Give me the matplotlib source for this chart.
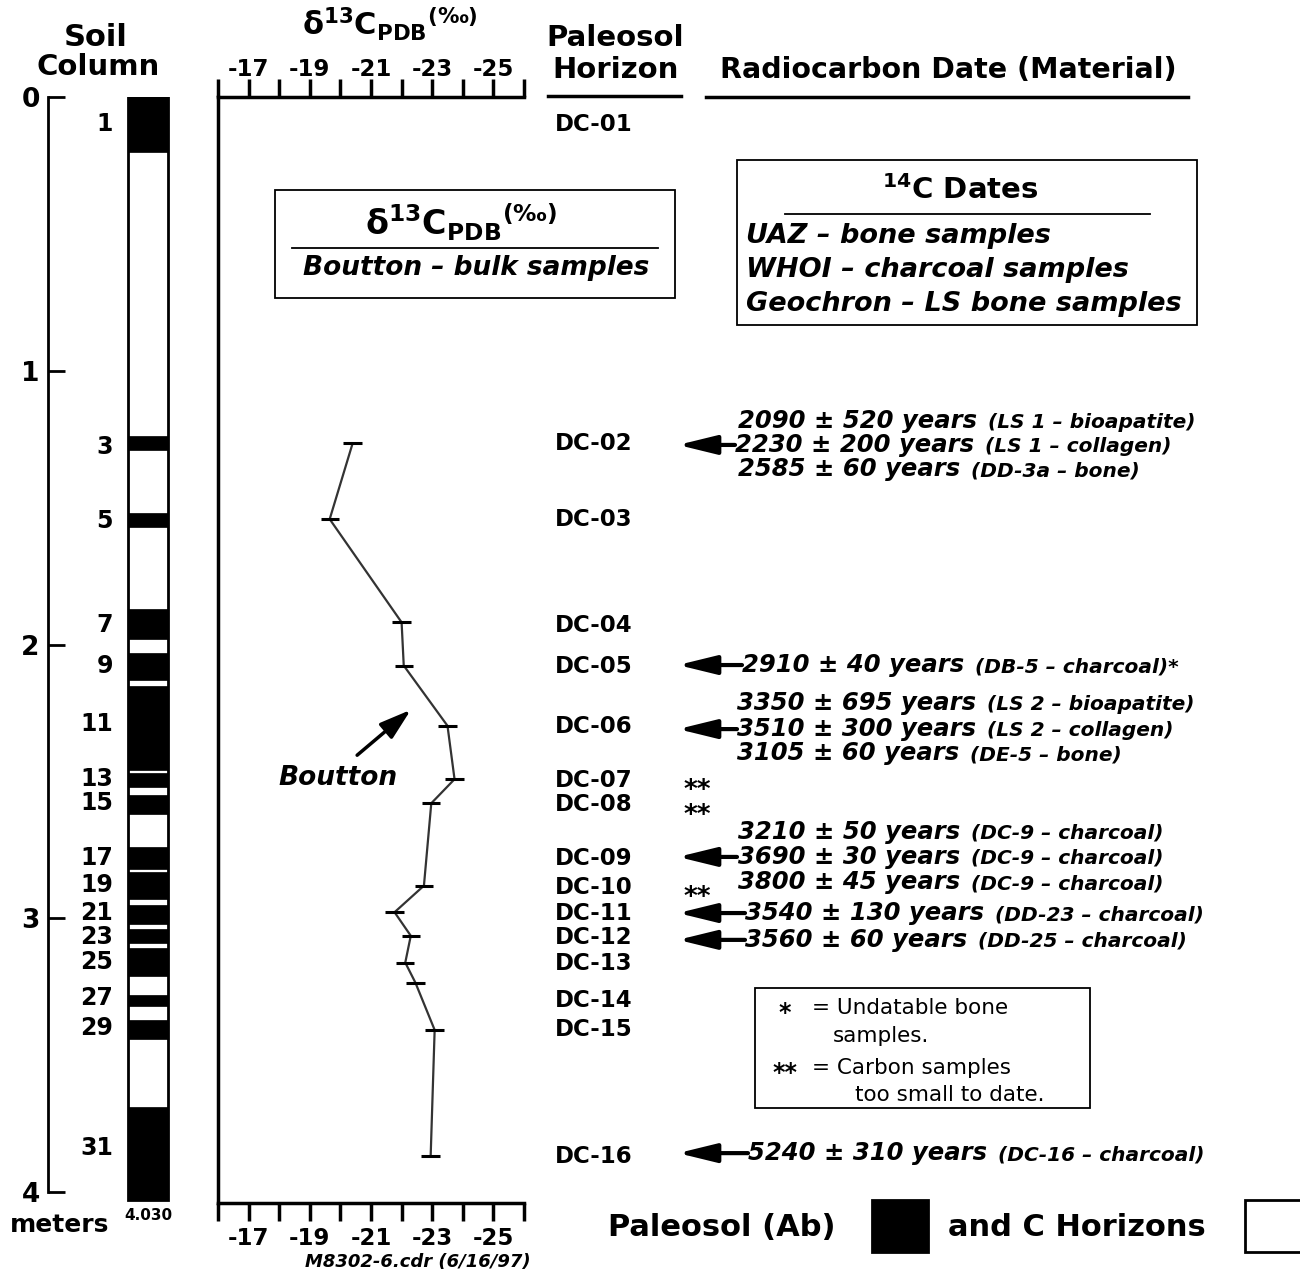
import matplotlib
matplotlib.use("Agg")

import matplotlib.pyplot as plt
from matplotlib.patches import Rectangle
from matplotlib.lines import Line2D
from matplotlib.offsetbox import TextArea, HPacker, AnnotationBbox

plt.rcParams["font.family"] = ["DejaVu Sans"]
plt.rcParams["mathtext.fontset"] = "custom"
plt.rcParams["mathtext.rm"] = "DejaVu Sans:bold"
plt.rcParams["mathtext.it"] = "DejaVu Sans:bold:italic"
plt.rcParams["mathtext.bf"] = "DejaVu Sans:bold"

# ---- soil column: black paleosol (Ab) bands, top/bottom depth in metres
band_top = [0.00, 1.24, 1.52, 1.87, 2.03, 2.15, 2.47, 2.55, 2.74, 2.83, 2.95, 3.04, 3.11, 3.28, 3.37, 3.69]
band_bot = [0.20, 1.29, 1.57, 1.98, 2.13, 2.46, 2.52, 2.62, 2.82, 2.93, 3.02, 3.09, 3.21, 3.32, 3.44, 4.03]
column_depth = 4.03

horizon_num = ["1", "3", "5", "7", "9", "11", "13", "15", "17", "19", "21", "23", "25", "27", "29", "31"]
horizon_num_depth = [0.10, 1.28, 1.55, 1.93, 2.08, 2.29, 2.49, 2.58, 2.78, 2.88, 2.98, 3.07, 3.16, 3.29, 3.40, 3.84]

# ---- delta 13C (Boutton bulk samples)
d13c_depth = [1.265, 1.542, 1.919, 2.077, 2.297, 2.492, 2.580, 2.881, 2.978, 3.064, 3.162, 3.235, 3.408, 3.868]
d13c_value = [-20.4, -19.65, -22.0, -22.07, -23.5, -23.73, -22.97, -22.73, -21.77, -22.3, -22.12, -22.45, -23.08, -22.95]
d13c_err = 0.3
d13c_ticks = list(range(-16, -27, -1))

# ---- paleosol horizons
dc_label = ["DC-01", "DC-02", "DC-03", "DC-04", "DC-05", "DC-06", "DC-07", "DC-08",
            "DC-09", "DC-10", "DC-11", "DC-12", "DC-13", "DC-14", "DC-15", "DC-16"]
dc_depth = [0.102, 1.264, 1.545, 1.932, 2.082, 2.301, 2.495, 2.583,
            2.783, 2.886, 2.981, 3.069, 3.164, 3.299, 3.405, 3.869]

# ---- radiocarbon dates
date_main = ["2090 ± 520 years", "2230 ± 200 years", "2585 ± 60 years",
             "2910 ± 40 years",
             "3350 ± 695 years", "3510 ± 300 years", "3105 ± 60 years",
             "3210 ± 50 years", "3690 ± 30 years", "3800 ± 45 years",
             "3540 ± 130 years", "3560 ± 60 years", "5240 ± 310 years"]
date_material = ["(LS 1 – bioapatite)", "(LS 1 – collagen)", "(DD-3a – bone)",
                 "(DB-5 – charcoal)*",
                 "(LS 2 – bioapatite)", "(LS 2 – collagen)", "(DE-5 – bone)",
                 "(DC-9 – charcoal)", "(DC-9 – charcoal)", "(DC-9 – charcoal)",
                 "(DD-23 – charcoal)", "(DD-25 – charcoal)", "(DC-16 – charcoal)"]
date_depth = [1.182, 1.271, 1.360, 2.075, 2.215, 2.309, 2.398,
              2.684, 2.776, 2.868, 2.981, 3.079, 3.858]
arrow_depth = [1.271, 2.075, 2.309, 2.776, 2.981, 3.079, 3.858]
too_small_depth = [2.506, 2.597, 2.897]   # "**" horizons

# ---- layout (pixels)
W, H = 1300, 1277
TOP, BOT = 97, 1203
DMAX = (BOT - TOP) / 273.75
date_x = [738, 735, 738, 742, 737, 737, 737, 738, 738, 738, 745, 745, 748]
arrow_tail = [735, 742, 737, 737, 745, 745, 748]
ARROW_TIP = 678

fig = plt.figure(figsize=(W / 100, H / 100), dpi=100)


def fx(x):
    return x / W


def fy(y):
    return 1 - y / H


def rect(x0, x1):
    return [fx(x0), fy(BOT), (x1 - x0) / W, (BOT - TOP) / H]


def ftext(x, y, s, **kw):
    kw.setdefault("fontweight", "bold")
    fig.text(fx(x), fy(y), s, **kw)


def fbox(x0, y0, x1, y1, lw=1.3, fc="white"):
    fig.patches.append(Rectangle((fx(x0), fy(y1)), (x1 - x0) / W, (y1 - y0) / H,
                                 transform=fig.transFigure, fill=True, facecolor=fc,
                                 edgecolor="black", linewidth=lw))


def fline(x0, x1, y, lw=1.3):
    fig.lines.append(Line2D([fx(x0), fx(x1)], [fy(y), fy(y)], transform=fig.transFigure,
                            color="black", linewidth=lw))


# main overlay: x in pixels, y in depth
ax = fig.add_axes(rect(0, W))
ax.set_xlim(0, W)
ax.set_ylim(DMAX, 0)
ax.axis("off")

# soil column
ax.bar(148, column_depth, width=40, bottom=0, color="white", edgecolor="black", linewidth=2)
ax.bar([148] * len(band_top), [b - t for t, b in zip(band_top, band_bot)], width=40,
       bottom=band_top, color="black", edgecolor="black", linewidth=0.5)
for s, d in zip(horizon_num, horizon_num_depth):
    ax.text(113, d, s, ha="right", va="center", fontsize=17, fontweight="bold")

# depth scale
axd = fig.add_axes(rect(48, 70))
axd.set_ylim(DMAX, 0)
axd.set_facecolor("none")
for side in ("top", "right", "bottom"):
    axd.spines[side].set_visible(False)
axd.spines["left"].set_bounds(0, 4)
axd.spines["left"].set_linewidth(2)
axd.set_xticks([])
axd.set_yticks([0, 1, 2, 3, 4])
axd.set_yticklabels(["0", "1", "2", "3", "4"], fontsize=19, fontweight="bold")
axd.tick_params(axis="y", direction="in", length=12, width=2, pad=6)

# delta 13C panel
ax13 = fig.add_axes(rect(218, 524))
ax13.set_facecolor("none")
ax13.set_xlim(-16, -26)
ax13.set_ylim(DMAX, 0)
ax13.spines["right"].set_visible(False)
for side in ("top", "bottom", "left"):
    ax13.spines[side].set_linewidth(2.5)
tick_text = [str(t) if t % 2 else "" for t in d13c_ticks]
ax13.set_xticks(d13c_ticks)
ax13.set_xticklabels(tick_text, fontsize=16.5, fontweight="bold")
ax13.tick_params(axis="x", top=True, labeltop=False, bottom=True, labelbottom=True,
                 direction="out", length=13, width=2.5, pad=4)
# top labels sit close to the tick marks
for t, s in zip(d13c_ticks, tick_text):
    ax13.text(t, 1.0245, s, transform=ax13.get_xaxis_transform(), ha="center",
              va="center", fontsize=16.5, fontweight="bold")
ax13.set_yticks([])
ax13.plot(d13c_value, d13c_depth, color="#333333", linewidth=1.6)
ax13.errorbar(d13c_value, d13c_depth, xerr=d13c_err, fmt="none", ecolor="black",
              elinewidth=2.2, capsize=0)

ax.annotate("", xy=(413, 2.232), xytext=(355, 2.411),
            arrowprops=dict(arrowstyle="-|>,head_length=0.8,head_width=0.25",
                            color="black", lw=2.5, mutation_scale=24))
ax.text(338, 2.488, "Boutton", ha="center", va="center", fontsize=19,
        fontweight="bold", fontstyle="italic")

# headers
ftext(96, 37, "Soil", ha="center", va="center", fontsize=22)
ftext(98, 67, "Column", ha="center", va="center", fontsize=21)
d13c_title = r"$\mathrm{\delta^{13}C_{PDB}{}^{(‰)}}$"
ftext(390, 24, d13c_title, ha="center", va="center", fontsize=22)
ftext(615, 38, "Paleosol", ha="center", va="center", fontsize=21)
ftext(616, 70, "Horizon", ha="center", va="center", fontsize=21)
ftext(948, 70, "Radiocarbon Date (Material)", ha="center", va="center", fontsize=20.5)
fline(548, 681, 96, lw=2.5)
fline(706, 1188, 97, lw=2.5)

# boxed notes
fbox(275, 190, 675, 298)
ftext(461, 222, d13c_title, ha="center", va="center", fontsize=24)
fline(292, 658, 248)
ftext(476, 268, "Boutton – bulk samples", ha="center", va="center", fontsize=19,
      fontstyle="italic")

fbox(737, 160, 1197, 325)
ftext(960, 190, r"$\mathrm{{}^{14}C\ Dates}$", ha="center", va="center", fontsize=21)
fline(785, 1150, 214)
for i, s in enumerate(["UAZ – bone samples", "WHOI – charcoal samples",
                       "Geochron – LS bone samples"]):
    ftext(746, 236 + 34 * i, s, ha="left", va="center", fontsize=19.5, fontstyle="italic")

# horizon labels
for s, d in zip(dc_label, dc_depth):
    ax.text(555, d, s, ha="left", va="center", fontsize=16.5, fontweight="bold")

# radiocarbon dates
for x, d, m, mat in zip(date_x, date_depth, date_main, date_material):
    t1 = TextArea(m, textprops=dict(fontsize=17.5, fontweight="bold", fontstyle="italic"))
    t2 = TextArea(mat, textprops=dict(fontsize=14.5, fontweight="bold", fontstyle="italic"))
    box = HPacker(children=[t1, t2], align="baseline", pad=0, sep=8)
    ax.add_artist(AnnotationBbox(box, (x, d), xycoords="data", box_alignment=(0, 0.5),
                                 frameon=False, pad=0))
for tail, d in zip(arrow_tail, arrow_depth):
    ax.annotate("", xy=(ARROW_TIP, d), xytext=(tail, d),
                arrowprops=dict(arrowstyle="-|>,head_length=0.9,head_width=0.22",
                                color="black", lw=3, mutation_scale=26,
                                shrinkA=0, shrinkB=0))
for d in too_small_depth:
    ax.text(697, d + 0.03, "**", ha="center", va="center", fontsize=19, fontweight="bold")

# asterisk key
fbox(755, 988, 1090, 1108)
ftext(785, 1013, "*", ha="center", va="center", fontsize=17, fontweight="bold")
ftext(812, 1008, "= Undatable bone", ha="left", va="center", fontsize=15.5, fontweight="normal")
ftext(833, 1036, "samples.", ha="left", va="center", fontsize=15.5, fontweight="normal")
ftext(785, 1073, "**", ha="center", va="center", fontsize=17, fontweight="bold")
ftext(812, 1068, "= Carbon samples", ha="left", va="center", fontsize=15.5, fontweight="normal")
ftext(855, 1095, "too small to date.", ha="left", va="center", fontsize=15.5, fontweight="normal")

# bottom key
ftext(608, 1228, "Paleosol (Ab)", ha="left", va="center", fontsize=22)
fbox(872, 1200, 928, 1252, lw=2, fc="black")
ftext(948, 1228, "and C Horizons", ha="left", va="center", fontsize=22)
fbox(1245, 1200, 1312, 1252, lw=2, fc="white")

ftext(60, 1225, "meters", ha="center", va="center", fontsize=18)
ftext(148, 1215, "4.030", ha="center", va="center", fontsize=11)
ftext(305, 1262, "M8302-6.cdr (6/16/97)", ha="left", va="center", fontsize=13,
      fontstyle="italic")

fig.savefig("out.png", dpi=100)
